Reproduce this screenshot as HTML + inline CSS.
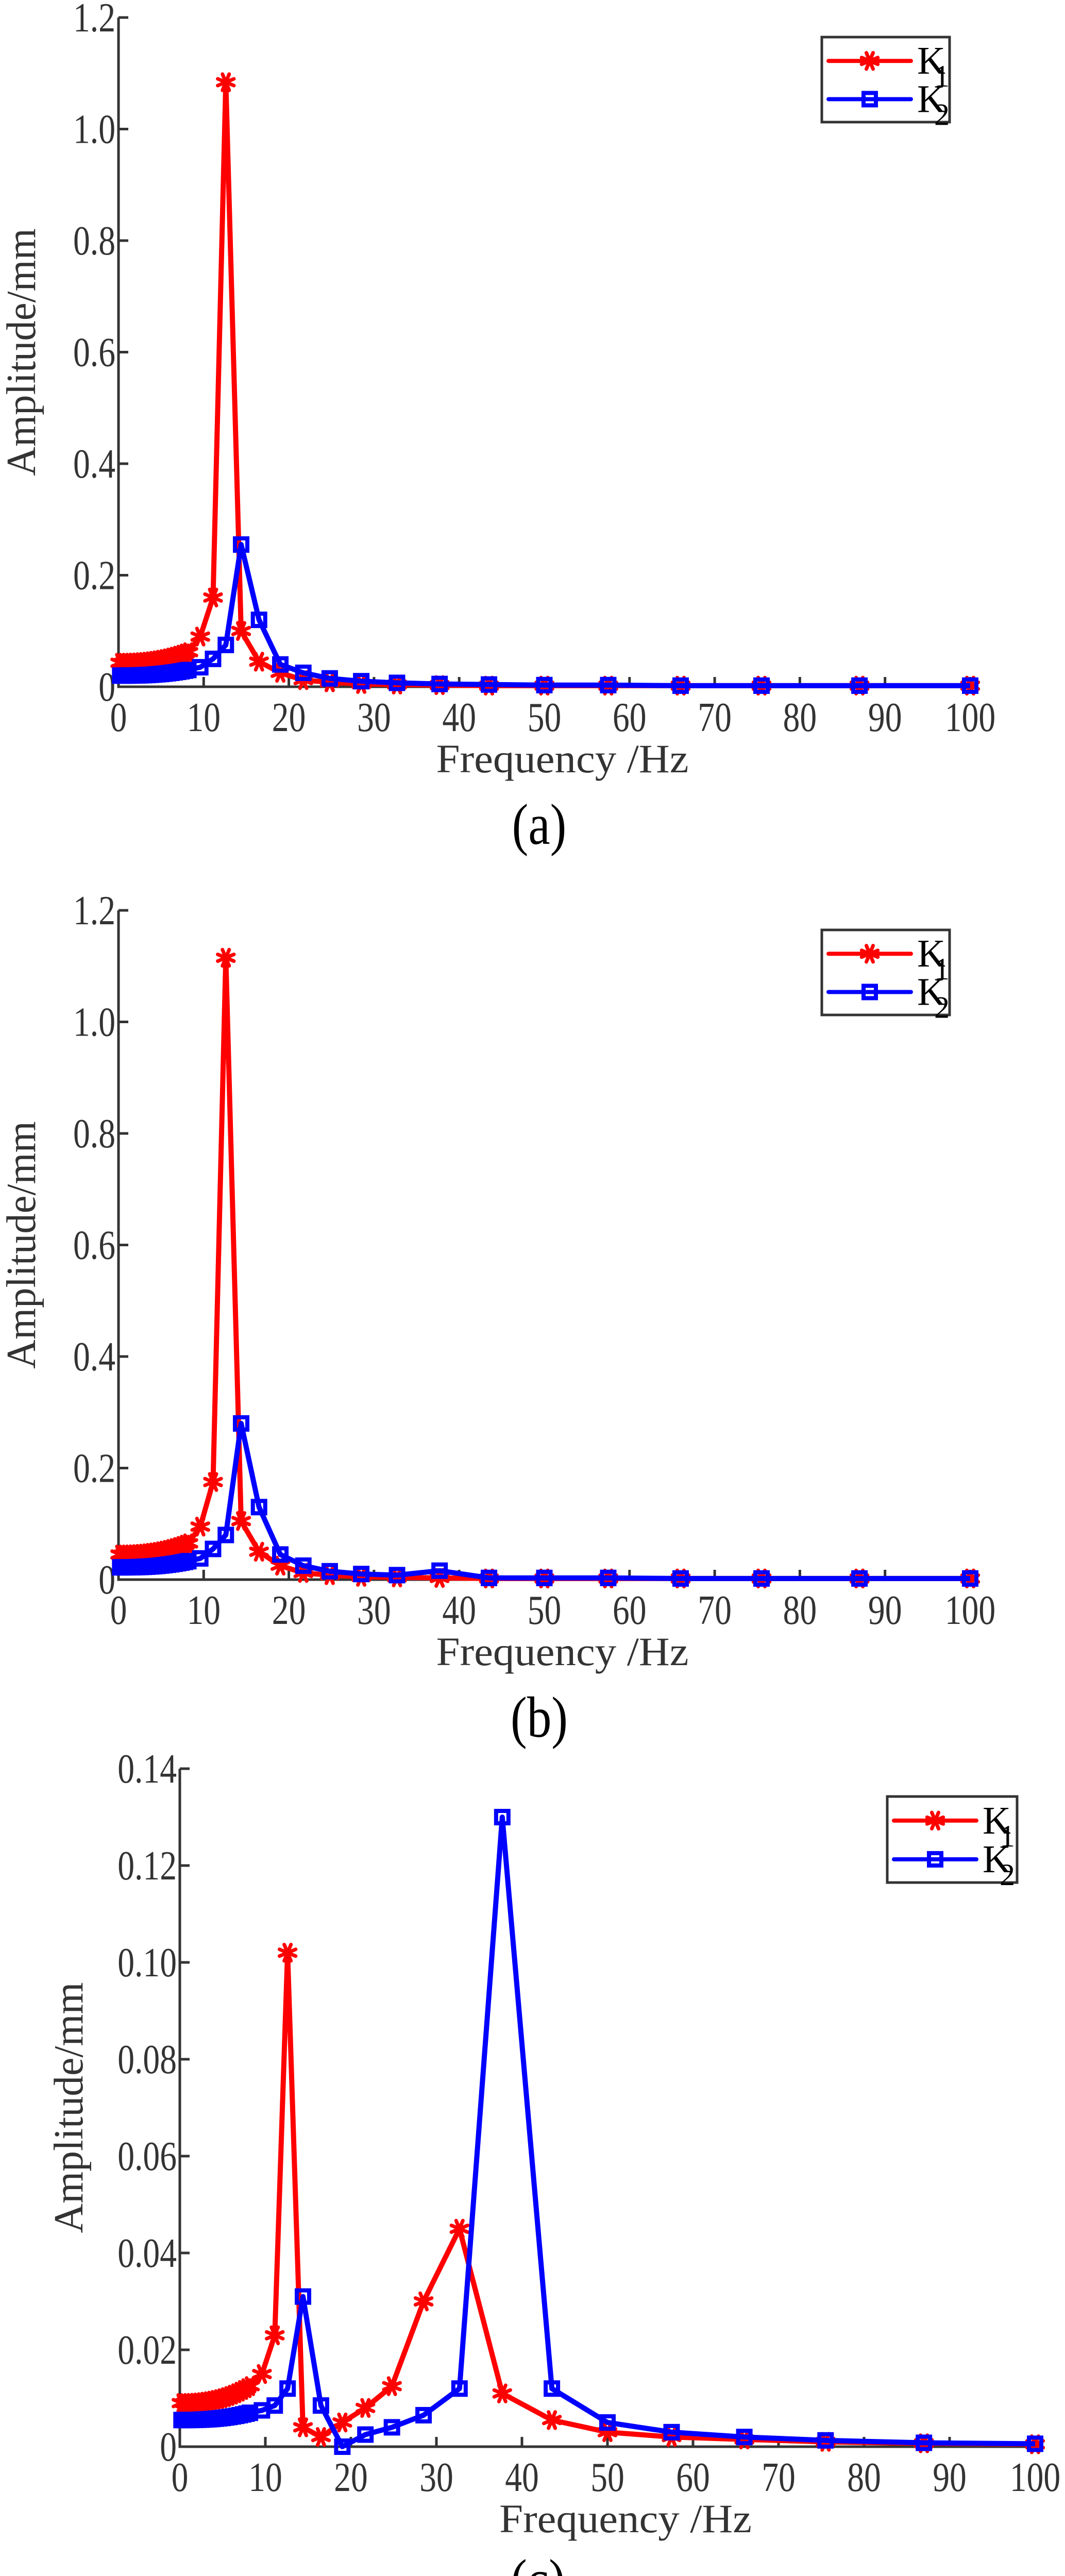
<!DOCTYPE html>
<html><head><meta charset="utf-8"><style>
html,body{margin:0;padding:0;background:#fff;overflow:hidden;width:2067px;height:5097px}
#w{position:absolute;left:0;top:0;width:2067px;height:5097px;overflow:hidden}
svg{display:block;overflow:hidden;position:absolute;left:0;top:0}
</style></head><body>
<div id="w"><svg id="s" width="2067" height="5097" viewBox="0 0 2067 5097" xmlns="http://www.w3.org/2000/svg"></svg></div>
<script>
const S=document.getElementById('s');let h='';
const W={'0':.5,'1':.5,'2':.5,'3':.5,'4':.5,'5':.5,'6':.5,'7':.5,'8':.5,'9':.5,'.':.25,'(':.333,')':.333,'a':.444,'b':.5,'c':.444};
function T(x,y,s,fs,anchor,extra,col,k){let w=0;for(const ch of s)w+=(W[ch]||.5);w*=fs*(k||0.82);
 return `<text x="${x}" y="${y}" font-family="Liberation Serif, serif" font-size="${fs}" fill="${col||'#333'}" text-anchor="${anchor}" textLength="${w.toFixed(1)}" lengthAdjust="spacingAndGlyphs" ${extra||''}>${s}</text>`;}
const F=[];for(let f=0.2;f<8.5;f+=0.4)F.push(+f.toFixed(2));
const HF=[9.6,11.1,12.6,14.4,16.5,19,21.7,24.8,28.5,32.7,37.7,43.5,50,57.5,66,75.5,87,100];
function low(a,b){return F.map(f=>a+(b-a)*Math.pow(f/8.2,2.5));}
function chart(c){
 const X=f=>c.x0+(c.x1-c.x0)*f/100, Y=v=>c.y0-(c.y0-c.ytop)*v/c.ymax;
 h+=`<polyline points="${c.x0},${c.ytop} ${c.x0},${c.y0} ${c.x1},${c.y0}" fill="none" stroke="#333" stroke-width="5"/>`;
 for(let i=0;i<=100;i+=10){const x=X(i);if(i>0)h+=`<line x1="${x}" y1="${c.y0}" x2="${x}" y2="${c.y0-19}" stroke="#333" stroke-width="5"/>`;
  h+=T(x,c.y0+86,String(i),80,'middle');}
 c.yt.forEach((t,i)=>{const v=c.ymax*i/(c.yt.length-1),y=Y(v);h+=`<line x1="${c.x0}" y1="${y}" x2="${c.x0+19}" y2="${y}" stroke="#333" stroke-width="5"/>`;
  h+=T(c.x0-6,y+27,t,80,'end');});
 h+=`<text transform="translate(${c.ylx},${(c.y0+c.ytop)/2}) rotate(-90)" font-family="Liberation Serif, serif" font-size="80" fill="#333" text-anchor="middle" textLength="${(c.y0-c.ytop)*0.37}" lengthAdjust="spacingAndGlyphs">Amplitude/mm</text>`;
 h+=`<text x="${(c.x0+c.x1)/2+35}" y="${c.y0+166}" font-family="Liberation Serif, serif" font-size="78" fill="#333" text-anchor="middle" textLength="490" lengthAdjust="spacingAndGlyphs">Frequency /Hz</text>`;
 h+=T((c.x0+c.x1)/2-c.lbdx,c.y0+c.lby,c.lab,112,'middle','','#000',0.85);
 const fr=F.concat(HF);
 const draw=(vals,col,m)=>{const pts=fr.map((f,i)=>[X(f),Y(vals[i])]);
  h+=`<polyline points="${pts.map(p=>p.join(',')).join(' ')}" fill="none" stroke="${col}" stroke-width="10" stroke-linejoin="round"/>`;
  pts.forEach(p=>h+=m(p[0],p[1]));};
 draw(c.r,'#f00',ast);draw(c.b,'#00f',sq);
 const L=c.leg;h+=`<rect x="${L[0]}" y="${L[1]}" width="${L[2]}" height="${L[3]}" fill="#fff" stroke="#333" stroke-width="5"/>`;
 const ly1=L[1]+L[3]*0.28,ly2=L[1]+L[3]*0.73;
 h+=`<line x1="${L[0]+13}" y1="${ly1}" x2="${L[0]+173}" y2="${ly1}" stroke="#f00" stroke-width="8" stroke-linecap="round"/>`+ast(L[0]+93,ly1);
 h+=`<line x1="${L[0]+13}" y1="${ly2}" x2="${L[0]+173}" y2="${ly2}" stroke="#00f" stroke-width="8" stroke-linecap="round"/>`+sq(L[0]+93,ly2);
 h+=`<text x="${L[0]+185}" y="${ly1+25}" font-family="Liberation Serif, serif" font-size="76" fill="#000">K</text><text x="${L[0]+218}" y="${ly1+50}" font-family="Liberation Serif, serif" font-size="60" fill="#000">1</text>`;
 h+=`<text x="${L[0]+185}" y="${ly2+25}" font-family="Liberation Serif, serif" font-size="76" fill="#000">K</text><text x="${L[0]+218}" y="${ly2+50}" font-family="Liberation Serif, serif" font-size="60" fill="#000">2</text>`;
}
function ast(x,y){let s='';for(let k=0;k<4;k++){const a=k*Math.PI/4+Math.PI/8,dx=17*Math.cos(a),dy=17*Math.sin(a);s+=`<line x1="${x-dx}" y1="${y-dy}" x2="${x+dx}" y2="${y+dy}" stroke="#f00" stroke-width="7" stroke-linecap="round"/>`;}return s;}
function sq(x,y){return `<rect x="${x-12}" y="${y-12}" width="24" height="24" fill="none" stroke="#00f" stroke-width="8"/>`;}
chart({x0:230,x1:1883,y0:1333,ytop:34,ymax:1.2,yt:['0','0.2','0.4','0.6','0.8','1.0','1.2'],lab:'(a)',lby:305,lbdx:10,ylx:68,leg:[1595,72,248,165],
 r:low(0.043,0.062).concat([0.09,0.16,1.084,0.1,0.045,0.025,0.012,0.008,0.005,0.004,0.003,0.002,0.002,0.002,0.002,0.002,0.002,0.002]),
 b:low(0.02,0.03).concat([0.035,0.05,0.075,0.255,0.12,0.04,0.025,0.015,0.01,0.007,0.005,0.004,0.003,0.003,0.002,0.002,0.002,0.002])});
chart({x0:230,x1:1883,y0:3066,ytop:1767,ymax:1.2,yt:['0','0.2','0.4','0.6','0.8','1.0','1.2'],lab:'(b)',lby:305,lbdx:10,ylx:68,leg:[1595,1805,248,165],
 r:low(0.045,0.065).concat([0.095,0.175,1.115,0.105,0.05,0.025,0.012,0.008,0.005,0.004,0.003,0.002,0.002,0.002,0.002,0.002,0.002,0.002]),
 b:low(0.022,0.033).concat([0.038,0.055,0.08,0.28,0.13,0.045,0.025,0.015,0.01,0.008,0.016,0.003,0.003,0.003,0.002,0.002,0.002,0.002])});
chart({x0:349,x1:2009,y0:4749,ytop:3433,ymax:0.14,yt:['0','0.02','0.04','0.06','0.08','0.10','0.12','0.14'],lab:'(c)',lby:296,lbdx:135,ylx:160,leg:[1722,3487,252,167],
 r:low(0.009,0.0125).concat([0.015,0.023,0.102,0.004,0.002,0.005,0.008,0.0125,0.03,0.045,0.011,0.0055,0.003,0.002,0.0015,0.001,0.0007,0.0005]),
 b:low(0.0055,0.007).concat([0.0075,0.0085,0.012,0.031,0.0085,0,0.0025,0.004,0.0065,0.012,0.13,0.012,0.005,0.003,0.002,0.0013,0.0008,0.0006])});
S.innerHTML=h;
</script>
</body></html>
